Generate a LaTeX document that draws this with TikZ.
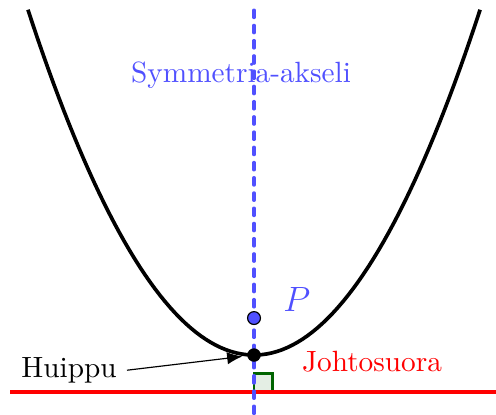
\documentclass[tikz,border=0pt]{standalone}
\usetikzlibrary{arrows.meta,positioning,calc}
\definecolor{AxisBlue}{RGB}{80,80,255}
\definecolor{SquareGreen}{RGB}{0,100,0}
\definecolor{SquareFill}{RGB}{228,238,228}
\tikzset{
  curve/.style={line width=1.25pt,black},
  axisline/.style={AxisBlue,line width=1.15pt,line cap=round,dash pattern=on 2.5pt off 2.7pt},
  directrix/.style={red,line width=1.4pt},
  pointer/.style={-{Latex[length=5.2pt,width=4.2pt]},black,line width=0.4pt,shorten >=1.5pt},
  dot/.style={circle,fill=black,inner sep=0pt,minimum size=4.6pt},
  focusdot/.style={circle,draw=black,fill=AxisBlue,line width=0.4pt,inner sep=0pt,minimum size=4.4pt},
  rightangle/.style={draw=SquareGreen,fill=SquareFill,line width=1pt}
}

\begin{document}
\begin{tikzpicture}[x=0.444cm,y=0.444cm]
  \useasboundingbox (-6.865,-1.595) rectangle (6.54,9.595);
  % directrix and the right angle
  \coordinate (dirleft) at (-6.59,-1);
  \coordinate (dirright) at (6.6,-1);
  \filldraw[rightangle] (0,-1) rectangle (0.51,-0.49);
  \draw[directrix] (dirleft) -- (dirright);
  % parabola
  \draw[curve] plot[domain=-6.11:6.11,samples=90] (\x,{\x*\x/4});
  % axis of symmetry
  \coordinate (axistop) at (0,9.32);
  \coordinate (axisbottom) at (0,-1.6);
  \draw[axisline] (axistop) -- (axisbottom);
  \node[focusdot] (focus) at (0,1) {};
  \node[dot] (vertex) at (0,0) {};
  % labels
  \node[text=AxisBlue] (axislabel) at (-0.35,7.57) {Symmetria-akseli};
  \node[text=AxisBlue,font=\large] (plabel) at (1.16,1.49) {$P$};
  \node (huippu) at (-5.0,-0.41) {Huippu};
  \node[text=red] (johto) at (3.19,-0.19) {Johtosuora};
  \draw[pointer] (huippu.east) -- (vertex);
\end{tikzpicture}
\end{document}
